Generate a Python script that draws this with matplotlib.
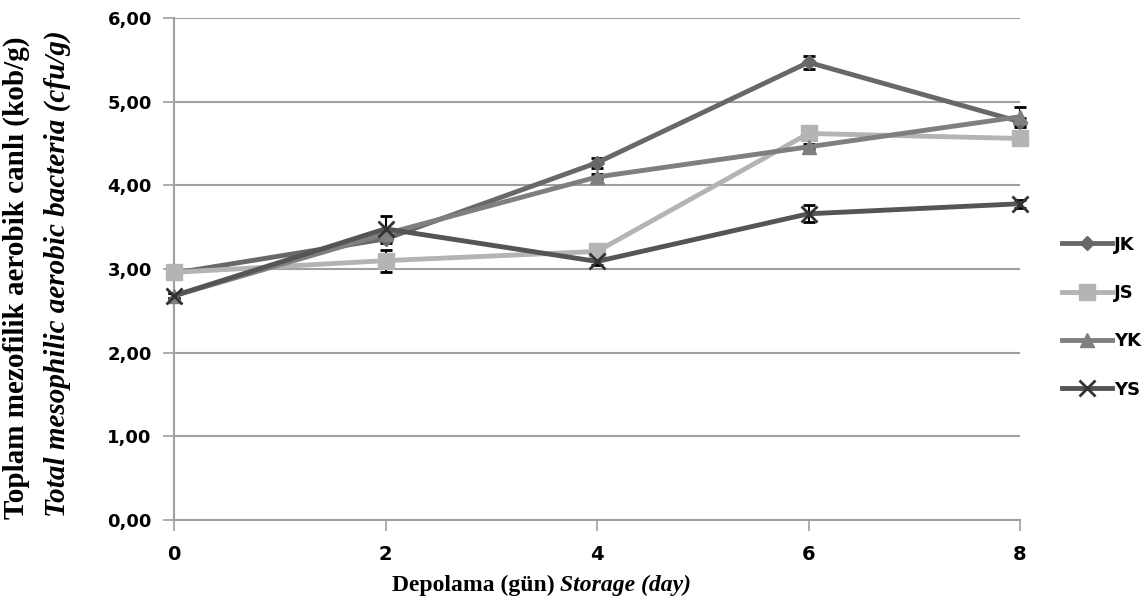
import numpy as np
import matplotlib.pyplot as plt

days = [0, 2, 4, 6, 8]
groups = ["JK", "JS", "YK", "YS"]

jk = [2.95, 3.36, 4.27, 5.47, 4.76]
js = [2.96, 3.10, 3.21, 4.62, 4.56]
yk = [2.68, 3.42, 4.10, 4.46, 4.82]
ys = [2.68, 3.48, 3.09, 3.66, 3.78]

jk_err = [0.03, 0.05, 0.06, 0.08, 0.04]
js_err = [0.03, 0.13, 0.03, 0.04, 0.03]
yk_err = [0.03, 0.05, 0.03, 0.03, 0.12]
ys_err = [0.03, 0.15, 0.04, 0.10, 0.05]

series = [jk, js, yk, ys]
errs = [jk_err, js_err, yk_err, ys_err]
colors = ["#686868", "#b4b4b4", "#7f7f7f", "#555555"]
markers = ["D", "s", "^", "x"]
msizes = [7, 11, 10, 11]

fig = plt.figure(figsize=(11.48, 6.02), dpi=100)
ax = fig.add_axes([174/1148, 1-520/602, (1020-174)/1148, (520-18)/602])

for k in range(4):
    ax.errorbar(days, series[k], yerr=errs[k], fmt='none', ecolor='k',
                elinewidth=1.5, capsize=4, capthick=2, zorder=3)
    if markers[k] == "x":
        ax.plot(days, series[k], color=colors[k], lw=3.5, marker='x',
                ms=msizes[k], mew=2, mec="#333333", label=groups[k], zorder=4)
    else:
        ax.plot(days, series[k], color=colors[k], lw=3.5, marker=markers[k],
                ms=msizes[k], mec=colors[k], label=groups[k], zorder=4)

ax.set_xlim(0, 8)
ax.set_ylim(0, 6)
ax.set_xticks(days)
yt = np.arange(0, 7, 1)
ax.set_yticks(yt)
ax.set_yticklabels([("%.2f" % v).replace(".", ",") for v in yt])
ax.yaxis.grid(True, color="#a0a0a0", lw=1.5)
ax.set_axisbelow(True)
for s in ["top", "right"]:
    ax.spines[s].set_visible(False)
for s in ["left", "bottom"]:
    ax.spines[s].set_color("#a0a0a0")
    ax.spines[s].set_linewidth(1.5)
ax.tick_params(axis='both', color="#a0a0a0", width=1.2, length=8)
ax.tick_params(axis='y', pad=8, labelsize=13)
ax.tick_params(axis='x', pad=10, labelsize=14)
for t in ax.get_xticklabels() + ax.get_yticklabels():
    t.set_fontweight('bold')
for l in ax.lines:
    l.set_clip_on(False)

ax.legend(loc='center left', bbox_to_anchor=(1.031, 0.404), frameon=False,
          prop={'weight': 'bold', 'size': 13}, labelspacing=1.68,
          handlelength=2.75, handletextpad=0.1)

serif = "Liberation Serif"
fig.text(16/1148, 0.538, "Toplam mezofilik aerobik canlı (kob/g)", rotation=90,
         ha='center', va='center', fontsize=21, fontweight='bold', family=serif)
fig.text(57/1148, 0.545, "Total mesophilic aerobic bacteria (cfu/g)", rotation=90,
         ha='center', va='center', fontsize=21, fontweight='bold', style='italic',
         family=serif)
fig.text(0.483, 0.028, "Depolama (gün)", ha='right', va='center', fontsize=17,
         fontweight='bold', family=serif)
fig.text(0.4875, 0.028, "Storage (day)", ha='left', va='center', fontsize=17,
         fontweight='bold', style='italic', family=serif)

fig.savefig("out.png", dpi=100)
